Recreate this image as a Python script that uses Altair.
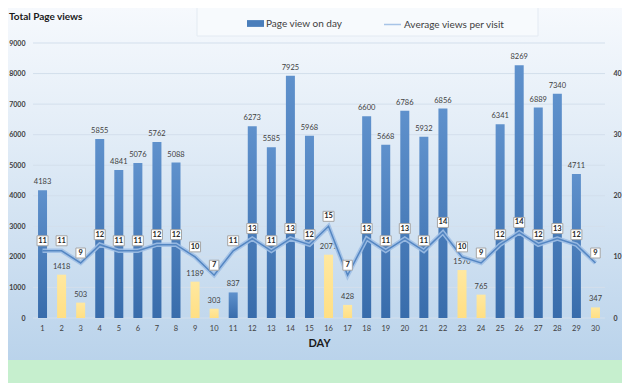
import altair as alt
import pandas as pd

# ---------------- data ----------------
days = list(range(1, 31))
page_views = [4183, 1418, 503, 5855, 4841, 5076, 5762, 5088, 1189, 303,
              837, 6273, 5585, 7925, 5968, 2071, 428, 6600, 5668, 6786,
              5932, 6856, 1570, 765, 6341, 8269, 6889, 7340, 4711, 347]
avg_views = [11, 11, 9, 12, 11, 11, 12, 12, 10, 7,
             11, 13, 11, 13, 12, 15, 7, 13, 11, 13,
             11, 14, 10, 9, 12, 14, 12, 13, 12, 9]
weekend_days = [2, 3, 9, 10, 16, 17, 23, 24, 30]
left_ticks = [0, 1000, 2000, 3000, 4000, 5000, 6000, 7000, 8000, 9000]
right_ticks = [0, 10, 20, 30, 40]
bar_series = "Page view on day"
line_series = "Average views per visit"
chart_title = "Total Page views"

df = pd.DataFrame({
    "day": days,
    "views": page_views,
    "avg": avg_views,
    "weekend": [d in weekend_days for d in days],
    "bar_series": bar_series,
    "line_series": line_series,
})
grid_df = pd.DataFrame({"views": left_ticks})
one = pd.DataFrame({"bar_series": [bar_series], "title": [chart_title]})

# ---------------- layout ----------------
W, H = 572, 275
PL, PT, PR, PB = 25, 35, 17, 65
FONT = "Lato"
TXT = "#404040"

x_enc = alt.X("day:O", title="DAY",
              scale=alt.Scale(paddingInner=0.5, paddingOuter=0.25),
              axis=alt.Axis(labelAngle=0, labelFontSize=7.5, labelColor=TXT, labelFont=FONT,
                            titleFontSize=11, titleFontWeight="bold", titleColor="#1a1a1a",
                            titleFont=FONT, domain=False, ticks=False, labelPadding=6,
                            titlePadding=6, zindex=2))
y_left = alt.Y("views:Q", scale=alt.Scale(domain=[0, 9000]),
               axis=alt.Axis(values=left_ticks, format="d", title=None, grid=False,
                             domain=False, ticks=False, labelPadding=8, labelFontSize=7,
                             labelFont=FONT, labelFontWeight="bold", labelColor=TXT,
                             zindex=2))
y_right = alt.Y("avg:Q", scale=alt.Scale(domain=[0, 45]),
                axis=alt.Axis(orient="right", values=right_ticks, format="d", title=None,
                              grid=False, domain=False, ticks=False, labelPadding=8,
                              labelFontSize=7, labelFont=FONT, labelFontWeight="bold",
                              labelColor=TXT, zindex=2))


def grad(stops):
    return alt.LinearGradient(
        gradient="linear",
        stops=[alt.GradientStop(offset=o, color=c) for o, c in stops],
        x1=0, x2=0, y1=0, y2=1)


bg = alt.Chart(pd.DataFrame({"k": [0]})).mark_rect(
    color=grad([(0, "#f6f9fd"), (0.35, "#e3edf7"), (1, "#bad3eb")])
).encode(x=alt.value(-PL), x2=alt.value(W + PR), y=alt.value(-PT), y2=alt.value(317))

green = alt.Chart(pd.DataFrame({"k": [0]})).mark_rect(color="#c6efce").encode(
    x=alt.value(-PL), x2=alt.value(W + PR), y=alt.value(317), y2=alt.value(H + PB))

legend_box = alt.Chart(pd.DataFrame({"k": [0]})).mark_rect(
    fill="#f7fafd", stroke="#e3eaf2", strokeWidth=1
).encode(x=alt.value(164), x2=alt.value(505), y=alt.value(-38), y2=alt.value(-7))

title_text = alt.Chart(one).mark_text(
    align="left", baseline="middle", fontSize=10, fontWeight="bold", font=FONT,
    color="#1a1a1a"
).encode(x=alt.value(-PL + 1), y=alt.value(-26), text="title:N")

gridlines = alt.Chart(grid_df).mark_rule(color="#d3dfec", strokeWidth=1).encode(
    y=y_left, x=alt.value(0), x2=alt.value(W))

legend_rect = alt.Chart(one).mark_rect(strokeWidth=0).encode(
    x=alt.value(0), x2=alt.value(0), y=alt.value(0), y2=alt.value(0),
    fill=alt.Fill("bar_series:N", scale=alt.Scale(range=["#4a7ebb"]),
                  legend=alt.Legend(orient="none", legendX=214, legendY=-28, title=None,
                                    symbolType="M-1,-0.4H1V0.4H-1Z", symbolSize=289,
                                    labelFontSize=10, labelFont=FONT, labelColor=TXT,
                                    padding=0, labelOffset=2, symbolStrokeWidth=0,
                                    zindex=2)))

base = alt.Chart(df)

bars_blue = base.transform_filter("!datum.weekend").mark_bar(
    size=9, color=grad([(0, "#5f91cc"), (1, "#386cab")])
).encode(x=x_enc, y=y_left)

bars_yellow = base.transform_filter("datum.weekend").mark_bar(
    size=9, color=grad([(0, "#ffe8a0"), (1, "#ffdf84")])
).encode(x=x_enc, y=y_left)

bar_text = base.mark_text(baseline="bottom", dy=-4, fontSize=7.5, font=FONT, color=TXT).encode(
    x=x_enc, y=y_left, text="views:Q")

left = alt.layer(bg, green, legend_box, title_text, gridlines, legend_rect,
                 bars_blue, bars_yellow, bar_text)

line_outer = base.mark_line(strokeWidth=4.5, opacity=0.9).encode(
    x=x_enc, y=y_right,
    stroke=alt.Stroke("line_series:N", scale=alt.Scale(range=["#9fbfe5"]),
                      legend=alt.Legend(orient="none", legendX=350, legendY=-28, title=None,
                                        symbolType="stroke", symbolSize=289,
                                        labelFontSize=10, labelFont=FONT, labelColor=TXT,
                                        padding=0, labelOffset=2, zindex=2)))
line_inner = base.mark_line(color="#5486c2", strokeWidth=1.5).encode(x=x_enc, y=y_right)

box2 = base.transform_filter("datum.avg >= 10").mark_point(
    shape="M-1.1,-1H1.1V1H-1.1Z", size=100, filled=True, fill="white",
    stroke="#a6a6a6", strokeWidth=1, opacity=1, yOffset=-10
).encode(x=x_enc, y=y_right)
box1 = base.transform_filter("datum.avg < 10").mark_point(
    shape="M-0.95,-1H0.95V1H-0.95Z", size=100, filled=True, fill="white",
    stroke="#a6a6a6", strokeWidth=1, opacity=1, yOffset=-10
).encode(x=x_enc, y=y_right)
box_text = base.mark_text(fontSize=7.5, fontWeight="bold", font=FONT, color="#262626",
                          baseline="middle", yOffset=-10).encode(
    x=x_enc, y=y_right, text="avg:Q")

right = alt.layer(line_outer, line_inner, box2, box1, box_text)

chart = alt.layer(left, right).resolve_scale(y="independent").properties(
    width=W, height=H,
    padding={"left": PL, "top": PT, "right": PR, "bottom": PB},
    autosize=alt.AutoSizeParams(type="none"),
).configure_view(stroke=None)

chart.save("out.html", embed_options={"renderer": "svg", "actions": False})
